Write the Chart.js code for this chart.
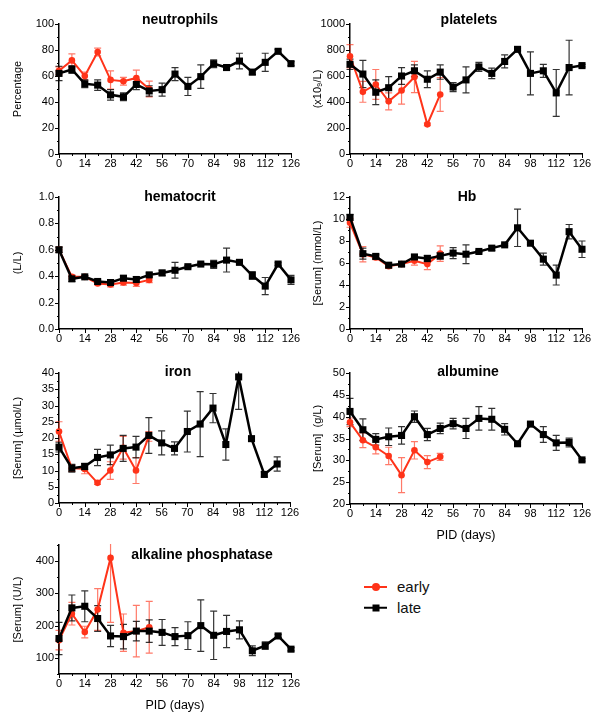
<!DOCTYPE html>
<html lang="en">
<head>
<meta charset="UTF-8" />
<title>Blood parameters, early vs late</title>
<script src="https://cdn.jsdelivr.net/npm/chart.js"></script>
<style>
  body { margin: 0; background: #fff; font-family: 'Liberation Sans', Arial, sans-serif; }
  #page { position: relative; width: 600px; height: 721px; overflow: hidden; }
  #page canvas { position: absolute; }
  .legend { position: absolute; left: 364px; top: 576px; font-size: 15px; color: #111; }
  .row { display: flex; align-items: center; height: 21px; white-space: nowrap; }
  .swatch { position: relative; width: 23px; height: 21px; margin-right: 10px; }
  .swatch .ln { position: absolute; left: 0; right: 0; top: 50%; transform: translateY(-50%); }
  .swatch .mk { position: absolute; left: 50%; top: 50%; transform: translate(-50%, -50%); }
</style>
</head>
<body>
<div id="page">
  <div class="legend">
    <div class="row">
      <div class="swatch"><div class="ln" style="height:2px;background:#ff3319"></div><div class="mk" style="width:8px;height:8px;border-radius:50%;background:#ff3319"></div></div>early
    </div>
    <div class="row">
      <div class="swatch"><div class="ln" style="height:2.5px;background:#000"></div><div class="mk" style="width:7px;height:7px;background:#000"></div></div>late
    </div>
  </div>
</div>

<script>
  // --- data (PID in days)
  const days = [0, 7, 14, 21, 28, 35, 42, 49, 56, 63, 70, 77, 84, 91, 98, 105, 112, 119, 126];
  const xTicks = [0, 14, 28, 42, 56, 70, 84, 98, 112, 126];

  const neutLate     = [62, 65, 54, 53, 45.5, 44, 53.5, 48.5, 49.5, 61.5, 52, 59.5, 69.5, 66.5, 71.5, 63, 70.5, 79, 69.5];
  const neutLateErr  = [5.5, 3, 3, 4, 4, 3, 4, 4, 5, 5, 7, 9, 3, 1.5, 6, 2, 7, 1.5, 1.5];
  const neutEarly    = [64, 72, 60, 78.5, 57, 56, 58.5, 50];
  const neutEarlyErr = [3, 5, 3, 3, 7, 3, 6, 6];
  const neutTicks    = [0, 20, 40, 60, 80, 100];

  const pltLate      = [690, 615, 475, 510, 600, 640, 575, 630, 515, 570, 670, 620, 712, 805, 620, 640, 470, 665, 680];
  const pltLateErr   = [40, 105, 95, 85, 65, 45, 65, 55, 35, 100, 35, 40, 50, 10, 165, 50, 180, 210, 10];
  const pltEarly     = [752, 478, 535, 405, 488, 592, 228, 458];
  const pltEarlyErr  = [90, 80, 115, 65, 105, 120, 10, 130];
  const pltTicks     = [0, 200, 400, 600, 800, 1000];

  const hctLate      = [0.60, 0.38, 0.395, 0.36, 0.352, 0.385, 0.375, 0.41, 0.425, 0.445, 0.472, 0.492, 0.49, 0.522, 0.505, 0.405, 0.325, 0.492, 0.372];
  const hctLateErr   = [0.02, 0.02, 0.01, 0.01, 0.015, 0.02, 0.02, 0.015, 0.02, 0.06, 0.01, 0.01, 0.03, 0.09, 0.01, 0.03, 0.065, 0.01, 0.035];
  const hctEarly     = [0.60, 0.395, 0.395, 0.345, 0.338, 0.352, 0.348, 0.372];
  const hctEarlyErr  = [0.02, 0.015, 0.01, 0.01, 0.02, 0.02, 0.025, 0.02];
  const hctTicks     = [0, 0.2, 0.4, 0.6, 0.8, 1.0];

  const hbLate       = [10.15, 6.85, 6.6, 5.8, 5.9, 6.55, 6.4, 6.65, 6.9, 6.8, 7.05, 7.35, 7.65, 9.2, 7.8, 6.35, 4.9, 8.85, 7.25];
  const hbLateErr    = [0.25, 0.5, 0.2, 0.2, 0.2, 0.2, 0.3, 0.3, 0.5, 0.85, 0.1, 0.2, 0.1, 1.7, 0.1, 0.55, 0.9, 0.65, 0.75];
  const hbEarly      = [9.65, 6.8, 6.5, 5.7, 5.9, 6.2, 5.9, 6.85];
  const hbEarlyErr   = [0.4, 0.7, 0.2, 0.2, 0.2, 0.4, 0.5, 0.7];
  const hbTicks      = [0, 2, 4, 6, 8, 10, 12];

  const ironLate     = [17.2, 10.7, 11.2, 14, 14.8, 16.8, 17.2, 20.8, 18.5, 16.8, 22, 24.3, 29.2, 18, 38.8, 19.8, 8.8, 12];
  const ironLateErr  = [1.5, 1.2, 1, 2.5, 3, 4, 3.3, 5.5, 3.7, 2, 6.3, 10, 4.5, 4.8, 10, 0.5, 0.8, 2.2];
  const ironEarly    = [22, 10.7, 10.5, 6.2, 10, 17, 10, 20.5];
  const ironEarlyErr = [3, 1, 1.5, 0.5, 2.7, 3.5, 4, 1.5];
  const ironTicks    = [0, 5, 10, 15, 20, 25, 30, 35, 40];

  const albLate      = [41.2, 37, 34.8, 35.4, 35.7, 40, 35.9, 37.3, 38.4, 37.3, 39.6, 39.4, 37.1, 33.8, 38.3, 35.9, 34, 34.1, 30.1];
  const albLateErr   = [3, 2.5, 1.3, 2, 2, 1.3, 1.4, 1.2, 1.2, 2.3, 2.7, 2.5, 1.3, 0.3, 0.3, 1.8, 1.7, 1, 0.3];
  const albEarly     = [38.7, 34.6, 33, 31, 26.6, 32.3, 29.6, 30.8];
  const albEarlyErr  = [1, 1.7, 1.5, 2, 4, 2, 1.5, 0.8];
  const albTicks     = [20, 25, 30, 35, 40, 45, 50];

  const alpLate      = [160, 255, 260, 222, 168, 166, 183, 183, 179, 166, 169, 200, 170, 182, 187, 122, 138, 168, 127];
  const alpLateErr   = [50, 40, 48, 40, 33, 38, 30, 35, 40, 28, 43, 80, 75, 50, 28, 15, 12, 5, 5];
  const alpEarly     = [155, 237, 180, 250, 410, 178, 183, 195];
  const alpEarlyErr  = [30, 35, 18, 65, 200, 58, 80, 80];
  const alpTicks     = [100, 200, 300, 400];

  const RED = '#ff3319';
  Chart.defaults.font.family = "'Liberation Sans', Arial, sans-serif";
  Chart.defaults.color = '#000';

  // panel layout: canvas box [x, y, w, h] and plot rect [left, right, top, bottom], page coords
  const panels = [
    { title: 'neutrophils', tpos: [180, 20], yTitle: 'Percentage', box: [0, 0, 300, 180], plot: [59, 291, 24, 154],
      late: neutLate, lateErr: neutLateErr, early: neutEarly, earlyErr: neutEarlyErr, ticks: neutTicks, min: 0, max: 100 },
    { title: 'platelets', tpos: [469, 20], yTitle: '(x10\u2089/L)', box: [300, 0, 300, 180], plot: [350, 582, 24, 154],
      late: pltLate, lateErr: pltLateErr, early: pltEarly, earlyErr: pltEarlyErr, ticks: pltTicks, min: 0, max: 1000 },
    { title: 'hematocrit', tpos: [180, 197], yTitle: '(L/L)', box: [0, 180, 300, 180], plot: [59, 291, 197, 329],
      late: hctLate, lateErr: hctLateErr, early: hctEarly, earlyErr: hctEarlyErr, ticks: hctTicks, min: 0, max: 1, dec: 1 },
    { title: 'Hb', tpos: [467, 197], yTitle: '[Serum] (mmol/L)', box: [300, 180, 300, 180], plot: [350, 582, 197, 329],
      late: hbLate, lateErr: hbLateErr, early: hbEarly, earlyErr: hbEarlyErr, ticks: hbTicks, min: 0, max: 12 },
    { title: 'iron', tpos: [178, 372], yTitle: '[Serum] (\u00b5mol/L)', box: [0, 360, 300, 180], plot: [59, 290, 373, 503],
      late: ironLate, lateErr: ironLateErr, early: ironEarly, earlyErr: ironEarlyErr, ticks: ironTicks, min: 0, max: 40 },
    { title: 'albumine', tpos: [468, 372], yTitle: '[Serum]  (g/L)', box: [300, 360, 300, 190], plot: [350, 582, 373, 504],
      late: albLate, lateErr: albLateErr, early: albEarly, earlyErr: albEarlyErr, ticks: albTicks, min: 20, max: 50,
      xTitle: 'PID (days)', xTitleY: 536 },
    { title: 'alkaline phosphatase', tpos: [202, 555], yTitle: '[Serum] (U/L)', box: [0, 540, 300, 181], plot: [59, 291, 543, 674],
      late: alpLate, lateErr: alpLateErr, early: alpEarly, earlyErr: alpEarlyErr, ticks: alpTicks, min: 50, max: 450,
      xTitle: 'PID (days)', xTitleY: 706 }
  ];

  const pts = vals => vals.map((v, i) => ({ x: days[i], y: v }));

  // error bars drawn from the y scale
  const errorBars = {
    id: 'errorBars',
    beforeDatasetsDraw(chart) {
      const { ctx, chartArea, scales } = chart;
      ctx.save();
      ctx.beginPath();
      ctx.rect(0, chartArea.top - 1, chart.width, chartArea.bottom - chartArea.top + 2);
      ctx.clip();
      [1, 0].forEach(di => {
        const ds = chart.data.datasets[di];
        ctx.strokeStyle = ds.errColor;
        ctx.lineWidth = 1.2;
        ds.data.forEach((p, i) => {
          const e = ds.errors[i];
          if (e == null) return;
          const x = scales.x.getPixelForValue(p.x);
          const y1 = scales.y.getPixelForValue(p.y + e);
          const y2 = scales.y.getPixelForValue(p.y - e);
          ctx.beginPath();
          ctx.moveTo(x, y1); ctx.lineTo(x, y2);
          ctx.moveTo(x - 3.5, y1); ctx.lineTo(x + 3.5, y1);
          ctx.moveTo(x - 3.5, y2); ctx.lineTo(x + 3.5, y2);
          ctx.stroke();
        });
      });
      ctx.restore();
    }
  };

  // major/minor tick marks
  const tickMarks = {
    id: 'tickMarks',
    afterDraw(chart) {
      const { ctx, chartArea, scales } = chart;
      const ys = scales.y, xs = scales.x;
      ctx.save();
      ctx.strokeStyle = '#000';
      ctx.lineWidth = 1;
      ctx.beginPath();
      const yt = ys.ticks.map(t => t.value);
      const half = (yt[1] - yt[0]) / 2;
      for (let v = yt[0] - half; v <= ys.max + 1e-9; v += half) {
        if (v < ys.min - 1e-9) continue;
        const y = Math.round(ys.getPixelForValue(v)) + 0.5;
        const major = yt.some(t => Math.abs(t - v) < 1e-9);
        ctx.moveTo(chartArea.left, y); ctx.lineTo(chartArea.left - (major ? 4 : 2), y);
      }
      days.forEach(d => {
        const x = Math.round(xs.getPixelForValue(d)) + 0.5;
        const major = d % 14 === 0;
        ctx.moveTo(x, chartArea.bottom); ctx.lineTo(x, chartArea.bottom + (major ? 4 : 2));
      });
      ctx.stroke();
      ctx.restore();
    }
  };

  // bold panel title, inside the top of the plot
  const panelTitle = {
    id: 'panelTitle',
    afterDraw(chart, args, opts) {
      const ctx = chart.ctx;
      ctx.save();
      ctx.font = "bold 14px 'Liberation Sans', Arial, sans-serif";
      ctx.fillStyle = '#000';
      ctx.textAlign = 'center';
      ctx.textBaseline = 'middle';
      ctx.fillText(opts.text, opts.x, opts.y);
      ctx.restore();
    }
  };

  const page = document.getElementById('page');

  panels.forEach(p => {
    const [bx, by, bw, bh] = p.box;
    const [l, r, t, b] = p.plot;
    const cv = document.createElement('canvas');
    cv.width = bw; cv.height = bh;
    cv.style.left = bx + 'px'; cv.style.top = by + 'px';
    cv.style.width = bw + 'px'; cv.style.height = bh + 'px';
    page.appendChild(cv);

    new Chart(cv, {
      type: 'line',
      data: {
        datasets: [
          { label: 'late', data: pts(p.late), errors: p.lateErr, errColor: 'rgba(0,0,0,0.8)',
            borderColor: '#000', borderWidth: 2.5, pointStyle: 'rect', pointRadius: 5,
            pointBackgroundColor: '#000', pointBorderWidth: 0, tension: 0, clip: false },
          { label: 'early', data: pts(p.early), errors: p.earlyErr, errColor: 'rgba(255,51,25,0.65)',
            borderColor: RED, borderWidth: 2, pointStyle: 'circle', pointRadius: 3.3,
            pointBackgroundColor: RED, pointBorderWidth: 0, tension: 0, clip: false }
        ]
      },
      options: {
        responsive: false,
        animation: false,
        devicePixelRatio: 1,
        events: [],
        layout: { padding: { left: 0, top: t - by, right: bx + bw - r, bottom: 0 } },
        plugins: {
          legend: { display: false },
          tooltip: { enabled: false },
          panelTitle: { text: p.title, x: p.tpos[0] - bx, y: p.tpos[1] - by }
        },
        scales: {
          x: {
            type: 'linear', min: 0, max: 126,
            afterBuildTicks(s) { s.ticks = xTicks.map(v => ({ value: v })); },
            afterFit(s) { s.height = by + bh - b; s.paddingLeft = 0; s.paddingRight = 0; },
            grid: { display: false, drawTicks: false },
            border: { display: true, color: '#000', width: 1.5 },
            ticks: { color: '#000', font: { size: 11 }, padding: 3, maxRotation: 0, autoSkip: false },
            title: p.xTitle
              ? { display: true, text: p.xTitle, color: '#000', font: { size: 12.5 },
                  padding: { top: 0, bottom: by + bh - p.xTitleY - 7.5 } }
              : { display: false }
          },
          y: {
            min: p.min, max: p.max,
            afterBuildTicks(s) { s.ticks = p.ticks.map(v => ({ value: v })); },
            afterFit(s) { s.width = l - bx; s.paddingTop = 0; s.paddingBottom = 0; },
            grid: { display: false, drawTicks: false },
            border: { display: true, color: '#000', width: 1.5 },
            ticks: { color: '#000', font: { size: 11 }, padding: 5,
                     callback: v => p.dec ? v.toFixed(p.dec) : v },
            title: { display: true, text: p.yTitle, color: '#000', font: { size: 11 },
                     padding: { top: 11, bottom: 0 } }
          }
        }
      },
      plugins: [errorBars, tickMarks, panelTitle]
    });
  });
</script>
</body>
</html>
